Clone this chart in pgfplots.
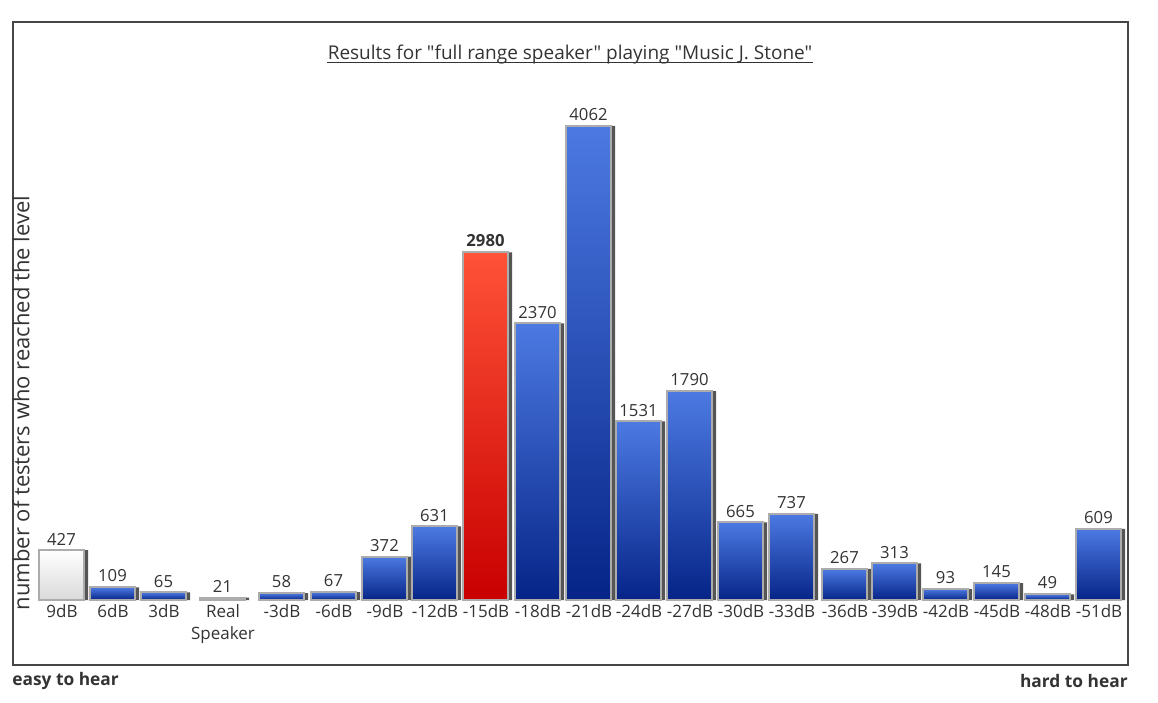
\documentclass[border=0pt]{standalone}
\usepackage{pgfplots}
\pgfplotsset{compat=1.18}
\usepackage{fontspec}
\setmainfont{Open Sans}[Ligatures=TeXOff]
\definecolor{bluetop}{RGB}{76,122,226}
\definecolor{bluebot}{RGB}{6,36,136}
\definecolor{redtop}{RGB}{255,82,56}
\definecolor{redbot}{RGB}{200,0,0}
\definecolor{whitebot}{RGB}{218,218,218}
\definecolor{txt}{RGB}{51,51,51}
\definecolor{edge}{RGB}{172,172,172}
\definecolor{shadowc}{RGB}{85,85,85}
\definecolor{framec}{RGB}{70,70,70}
% x = horizontal centre of each column (pixels), y = number of testers
\pgfplotstableread{
x y
62 427
113 109
164 65
223 21
282 58
334 67
385 372
435 631
486 2980
538 2370
589 4062
639 1531
690 1790
741 665
792 737
845 267
895 313
946 93
997 145
1048 49
1099 609
}\alldata
\pgfplotsset{
  mybar/.style={ybar, bar width=27pt, bar shift=-0.3pt, draw=edge, line width=1.2pt, nodes near coords},
  bluebar/.style={mybar, top color=bluetop, bottom color=bluebot},
}
\begin{document}
\begin{tikzpicture}
\begin{scope}[x=0.6pt,y=-0.6pt]
\path[use as bounding box] (0,0) rectangle (1158,702);
\draw[line width=1.6pt, framec] (13,22) rectangle (1128,665);
\node[inner sep=0pt, font=\fontsize{11.4}{13}\selectfont, text=txt] (t) at (570,55) {Results for "full range speaker" playing "Music J. Stone"};
\draw[txt, line width=0.6pt] ([yshift=-1.7pt]t.base west) -- ([yshift=-1.7pt]t.base east);
\node[rotate=90, font=\fontsize{13.2}{15}\selectfont, text=txt] at (21,403) {number of testers who reached the level};
\node[anchor=west, inner sep=0pt, font=\fontsize{10.4}{12}\selectfont\bfseries, text=txt] at (12,681) {easy to hear};
\node[anchor=east, inner sep=0pt, font=\fontsize{10.4}{12}\selectfont\bfseries, text=txt] at (1128,681) {hard to hear};
\end{scope}
\begin{axis}[
  at={(0pt,-360pt)}, anchor=south west,
  scale only axis, width=694.8pt, height=284.4pt,
  xmin=0, xmax=1158, ymin=0, ymax=4062,
  enlargelimits=false, clip=false,
  axis line style={draw=none},
  ytick=\empty,
  xtick={62,113,164,223,282,334,385,435,486,538,589,639,690,741,792,845,895,946,997,1048,1099},
  xticklabels={9dB,6dB,3dB,{Real\\Speaker},-3dB,-6dB,-9dB,-12dB,-15dB,-18dB,-21dB,-24dB,-27dB,-30dB,-33dB,-36dB,-39dB,-42dB,-45dB,-48dB,-51dB},
  xticklabel style={align=center, font=\fontsize{10.2}{13.4}\selectfont, text=txt, inner sep=1.5pt, yshift=-1pt},
  major tick length=0pt,
  ybar,
  /pgf/number format/1000 sep={},
  /pgf/number format/assume math mode=true,
  every node near coord/.append style={font=\fontsize{10}{12}\selectfont, text=txt, inner sep=2.5pt},
]
\addplot[ybar, bar width=29.4pt, bar shift=0.9pt, fill=shadowc, draw=none] table[x=x,y=y] {\alldata};
\addplot[mybar, top color=white, bottom color=whitebot] coordinates {(62,427)};
\addplot[bluebar] coordinates {(113,109)};
\addplot[bluebar] coordinates {(164,65)};
\addplot[bluebar] coordinates {(223,21)};
\addplot[bluebar] coordinates {(282,58)};
\addplot[bluebar] coordinates {(334,67)};
\addplot[bluebar] coordinates {(385,372)};
\addplot[bluebar] coordinates {(435,631)};
\addplot[mybar, top color=redtop, bottom color=redbot, every node near coord/.append style={font=\fontsize{10}{12}\selectfont\bfseries}] coordinates {(486,2980)};
\addplot[bluebar] coordinates {(538,2370)};
\addplot[bluebar] coordinates {(589,4062)};
\addplot[bluebar] coordinates {(639,1531)};
\addplot[bluebar] coordinates {(690,1790)};
\addplot[bluebar] coordinates {(741,665)};
\addplot[bluebar] coordinates {(792,737)};
\addplot[bluebar] coordinates {(845,267)};
\addplot[bluebar] coordinates {(895,313)};
\addplot[bluebar] coordinates {(946,93)};
\addplot[bluebar] coordinates {(997,145)};
\addplot[bluebar] coordinates {(1048,49)};
\addplot[bluebar] coordinates {(1099,609)};
\end{axis}
\end{tikzpicture}
\end{document}
